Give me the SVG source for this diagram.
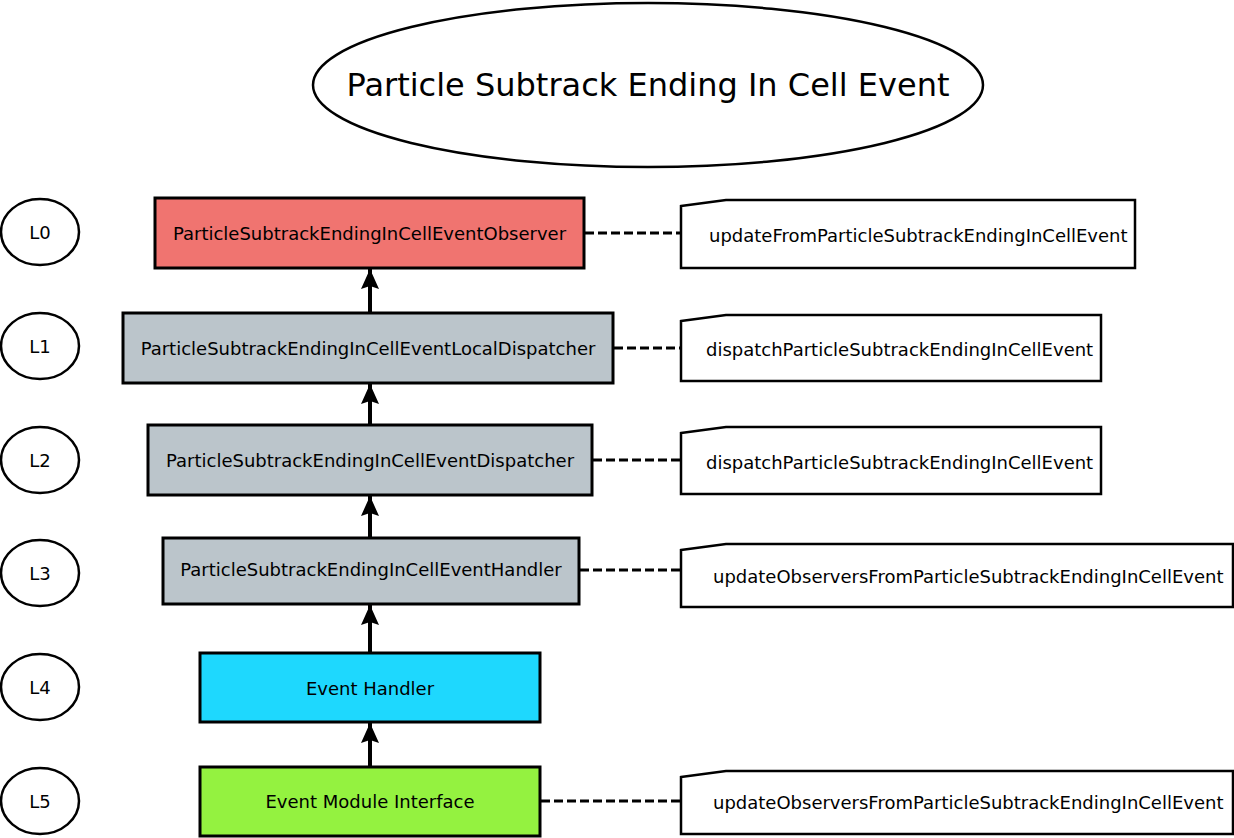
<svg xmlns="http://www.w3.org/2000/svg" width="1234" height="838" viewBox="0 0 1234 838">
<style>
text{font-family:"DejaVu Sans",sans-serif;fill:#000}
.box{stroke:#000;stroke-width:3}
.lab{font-size:18px;text-anchor:middle;dominant-baseline:central}
.note{fill:#fff;stroke:#000;stroke-width:2.5}
.ntxt{font-size:18px;dominant-baseline:central}
.lv{fill:#fff;stroke:#000;stroke-width:2.5}
.dash{stroke:#000;stroke-width:3;stroke-dasharray:9 4;fill:none}
.arr{stroke:#000;stroke-width:4;fill:none;marker-end:url(#ah)}
</style>
<defs>
<marker id="ah" markerWidth="22" markerHeight="22" refX="21" refY="11" orient="auto" markerUnits="userSpaceOnUse" overflow="visible">
<path d="M1,2 L21,11 L1,20 L4,11 z" fill="#000"/>
</marker>
</defs>
<rect width="1234" height="838" fill="#fff"/>
<g id="title">
<ellipse cx="648" cy="85" rx="335" ry="82" fill="#fff" stroke="#000" stroke-width="2.5"/>
<text x="648" y="85" font-size="32" text-anchor="middle" dominant-baseline="central">Particle Subtrack Ending In Cell Event</text>
</g>
<g id="levels">
<g id="L0"><ellipse class="lv" cx="40" cy="232" rx="39" ry="33"/><text class="lab" x="40" y="232">L0</text></g>
<g id="L1"><ellipse class="lv" cx="40" cy="346" rx="39" ry="33"/><text class="lab" x="40" y="346">L1</text></g>
<g id="L2"><ellipse class="lv" cx="40" cy="460" rx="39" ry="33"/><text class="lab" x="40" y="460">L2</text></g>
<g id="L3"><ellipse class="lv" cx="40" cy="573" rx="39" ry="33"/><text class="lab" x="40" y="573">L3</text></g>
<g id="L4"><ellipse class="lv" cx="40" cy="687" rx="39" ry="33"/><text class="lab" x="40" y="687">L4</text></g>
<g id="L5"><ellipse class="lv" cx="40" cy="801" rx="39" ry="33"/><text class="lab" x="40" y="801">L5</text></g>
</g>
<g id="connectors">
<line class="dash" x1="585" y1="233" x2="681" y2="233"/>
<line class="dash" x1="614" y1="348" x2="681" y2="348"/>
<line class="dash" x1="593" y1="460" x2="681" y2="460"/>
<line class="dash" x1="580" y1="570" x2="681" y2="570"/>
<line class="dash" x1="541" y1="801" x2="681" y2="801"/>
<line class="arr" x1="370" y1="313" x2="370" y2="269"/>
<line class="arr" x1="370" y1="425" x2="370" y2="384"/>
<line class="arr" x1="370" y1="538" x2="370" y2="496"/>
<line class="arr" x1="370" y1="653" x2="370" y2="605"/>
<line class="arr" x1="370" y1="767" x2="370" y2="723"/>
</g>
<g id="observer"><rect class="box" x="155" y="198" width="429" height="70" fill="#f07470"/><text class="lab" x="369.5" y="233">ParticleSubtrackEndingInCellEventObserver</text></g>
<g id="localDispatcher"><rect class="box" x="123" y="313" width="490" height="70" fill="#bbc5cb"/><text class="lab" x="368" y="348">ParticleSubtrackEndingInCellEventLocalDispatcher</text></g>
<g id="dispatcher"><rect class="box" x="148" y="425" width="444" height="70" fill="#bbc5cb"/><text class="lab" x="370" y="460">ParticleSubtrackEndingInCellEventDispatcher</text></g>
<g id="handler"><rect class="box" x="163" y="538" width="416" height="66" fill="#bbc5cb"/><text class="lab" x="371" y="569">ParticleSubtrackEndingInCellEventHandler</text></g>
<g id="eventHandler"><rect class="box" x="200" y="653" width="340" height="69" fill="#1ed8fe"/><text class="lab" x="370" y="688">Event Handler</text></g>
<g id="eventModule"><rect class="box" x="200" y="767" width="340" height="69" fill="#94f240"/><text class="lab" x="370" y="801">Event Module Interface</text></g>
<g id="note0"><path class="note" d="M681,206 L726,200 L1135,200 L1135,268 L681,268 Z"/><text class="ntxt" x="709" y="235">updateFromParticleSubtrackEndingInCellEvent</text></g>
<g id="note1"><path class="note" d="M681,321 L726,315 L1101,315 L1101,381 L681,381 Z"/><text class="ntxt" x="706" y="349">dispatchParticleSubtrackEndingInCellEvent</text></g>
<g id="note2"><path class="note" d="M681,433 L726,427 L1101,427 L1101,494 L681,494 Z"/><text class="ntxt" x="706" y="462">dispatchParticleSubtrackEndingInCellEvent</text></g>
<g id="note3"><path class="note" d="M681,550 L726,544 L1233,544 L1233,607 L681,607 Z"/><text class="ntxt" x="713" y="576">updateObserversFromParticleSubtrackEndingInCellEvent</text></g>
<g id="note4"><path class="note" d="M681,777 L726,771 L1233,771 L1233,834 L681,834 Z"/><text class="ntxt" x="713" y="802">updateObserversFromParticleSubtrackEndingInCellEvent</text></g>
</svg>
